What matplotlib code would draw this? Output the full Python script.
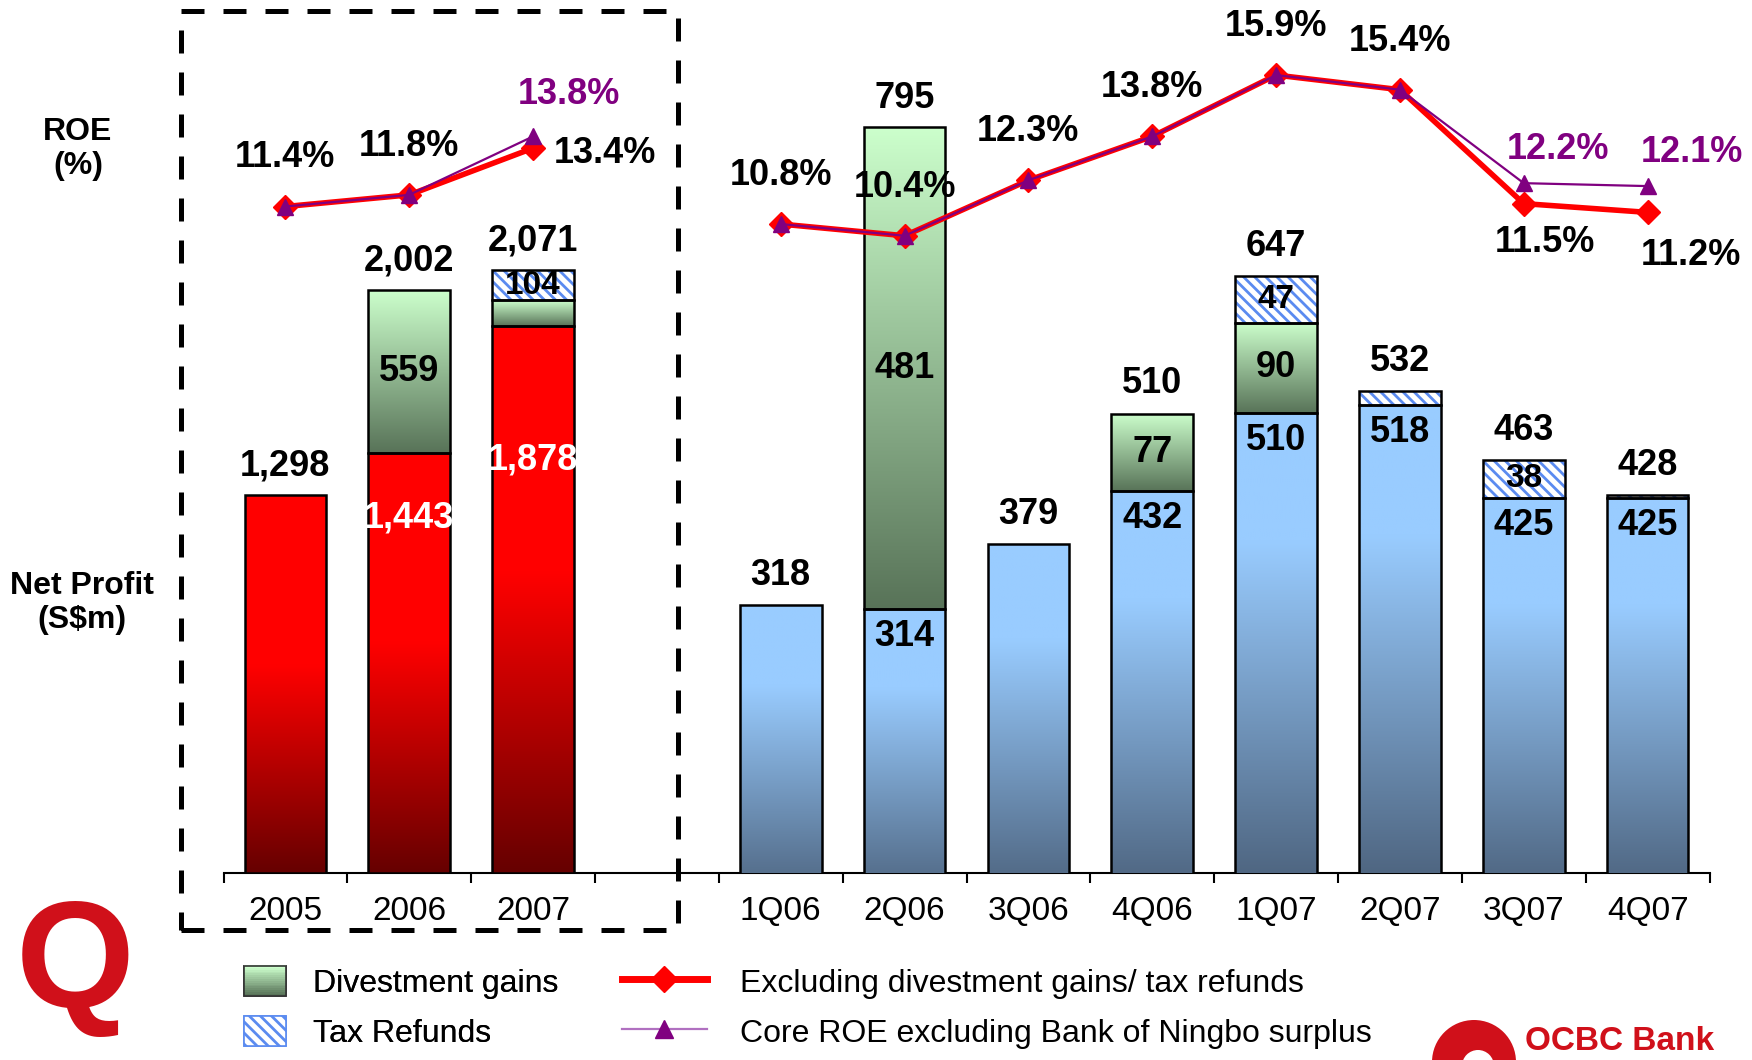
"""OCBC ROE and net profit chart: annual (2005-2007) and quarterly (1Q06-4Q07)."""

import matplotlib

matplotlib.use("Agg")
import matplotlib.pyplot as plt
import numpy as np
from matplotlib.colors import LinearSegmentedColormap, to_rgb
from matplotlib.legend_handler import HandlerBase
from matplotlib.lines import Line2D
from matplotlib.patches import Circle, Rectangle

plt.rcParams["font.family"] = ["Liberation Sans", "DejaVu Sans"]
plt.rcParams["hatch.linewidth"] = 2.0

# ---- data -----------------------------------------------------------------
years = ["2005", "2006", "2007"]
quarters = ["1Q06", "2Q06", "3Q06", "4Q06", "1Q07", "2Q07", "3Q07", "4Q07"]

annual_core = [1298, 1443, 1878]
annual_divest = [0, 559, 89]
annual_tax = [0, 0, 104]
annual_total = [1298, 2002, 2071]

quarter_core = [318, 314, 379, 432, 510, 518, 425, 425]
quarter_divest = [0, 481, 0, 77, 90, 0, 0, 0]
quarter_tax = [0, 0, 0, 0, 47, 14, 38, 3]
quarter_total = [318, 795, 379, 510, 647, 532, 463, 428]

roe_excl_annual = [11.4, 11.8, 13.4]
roe_core_annual = [11.4, 11.8, 13.8]
roe_excl_quarter = [10.8, 10.4, 12.3, 13.8, 15.9, 15.4, 11.5, 11.2]
roe_core_quarter = [10.8, 10.4, 12.3, 13.8, 15.9, 15.4, 12.2, 12.1]

# ---- style ----------------------------------------------------------------
RED_TOP, RED_BOT = "#ff0000", "#660000"
BLUE_TOP, BLUE_BOT = "#99ccff", "#44576f"
GREEN_TOP, GREEN_BOT = "#ccffcc", "#587358"
HATCH_BLUE = "#5b8bf0"
PURPLE = "#800080"
LOGO_RED = "#d0101a"
BAR_W = 0.66
FS = 26

x_annual = np.arange(len(years))
x_quarter = np.arange(len(quarters)) + len(years) + 1

# label offsets (points) for the ROE labels that do not sit straight above
excl_offsets = {2: (52, -4), 9: (15, -28), 10: (31, -31)}
core_offsets = {2: (26, 30), 9: (25, 24), 10: (32, 24)}
white_offsets = {1: 47, 2: 96}


def gradient_bar(ax, x, bottom, height, stops, zorder=3):
    bars = ax.bar(x, height, BAR_W, bottom=bottom, facecolor="none",
                  edgecolor="black", linewidth=1.8, zorder=zorder + 0.5)
    patch = bars.patches[0]
    cmap = LinearSegmentedColormap.from_list("g", stops)
    grad = np.linspace(0, 1, 256).reshape(-1, 1)
    im = ax.imshow(grad, extent=(x - BAR_W / 2, x + BAR_W / 2, bottom, bottom + height),
                   origin="lower", cmap=cmap, aspect="auto", zorder=zorder,
                   interpolation="bilinear")
    # clip to the bar outline but keep the axes clip box
    im.set_clip_path(patch.get_path(), patch.get_transform())


def hatch_bar(ax, x, bottom, height, zorder=3):
    ax.bar(x, height, BAR_W, bottom=bottom, facecolor="white", edgecolor=HATCH_BLUE,
           hatch="\\\\\\", linewidth=0, zorder=zorder)
    ax.bar(x, height, BAR_W, bottom=bottom, facecolor="none", edgecolor="black",
           linewidth=1.8, zorder=zorder + 0.5)


class GradientHandler(HandlerBase):
    def __init__(self, top, bot):
        super().__init__()
        self.top, self.bot = np.array(to_rgb(top)), np.array(to_rgb(bot))

    def create_artists(self, legend, orig_handle, xdescent, ydescent, width, height,
                       fontsize, trans):
        n = 16
        arts = []
        for i in range(n):
            f = i / (n - 1)
            col = self.bot * (1 - f) + self.top * f
            arts.append(Rectangle((-xdescent, -ydescent + i * height / n), width,
                                  height / n + 0.5, facecolor=col, edgecolor="none",
                                  transform=trans))
        arts.append(Rectangle((-xdescent, -ydescent), width, height, facecolor="none",
                              edgecolor="#333333", linewidth=1.2, transform=trans))
        return arts


fig = plt.figure(figsize=(17.52, 10.60), dpi=100)
rect = [223.5 / 1752, 187.4 / 1060, 1486 / 1752, 872.6 / 1060]
ax = fig.add_axes(rect)
ax_q = ax.twinx()
ax_r = ax.twinx()

red_stops = [(0.0, RED_BOT), (0.55, RED_TOP), (1.0, RED_TOP)]
green_stops = [GREEN_BOT, GREEN_TOP]
blue_stops = [(0.0, BLUE_BOT), (0.75, BLUE_TOP), (1.0, BLUE_TOP)]

ANN_YLIM = (0, 3000)
Q_YLIM = (51, 922)
ann_px = 872.6 / (ANN_YLIM[1] - ANN_YLIM[0])
q_px = 872.6 / (Q_YLIM[1] - Q_YLIM[0])


def draw_stack(axis, x, core, divest, tax, total, core_stops, scale, idx, annual):
    gradient_bar(axis, x, 0, core, core_stops)
    bottom = core
    if divest:
        gradient_bar(axis, x, bottom, divest, green_stops)
        if divest * scale >= 28:
            axis.text(x, bottom + divest / 2, f"{divest:,}", ha="center", va="center",
                      fontsize=FS, fontweight="bold", zorder=6)
        bottom += divest
    if tax:
        hatch_bar(axis, x, bottom, tax)
        if tax * scale >= 28:
            axis.text(x, bottom + tax / 2, f"{tax:,}", ha="center", va="center",
                      fontsize=FS - 2, fontweight="bold", zorder=6)
    axis.annotate(f"{total:,}", (x, total), xytext=(0, 21), textcoords="offset points",
                  ha="center", va="center", fontsize=FS, fontweight="bold", zorder=6)
    if divest or tax:
        if annual:
            axis.annotate(f"{core:,}", (x, core), xytext=(0, -white_offsets[idx]),
                          textcoords="offset points", ha="center", va="center",
                          fontsize=FS, fontweight="bold", color="white", zorder=6)
        else:
            axis.annotate(f"{core:,}", (x, core), xytext=(0, -20),
                          textcoords="offset points", ha="center", va="center",
                          fontsize=FS, fontweight="bold", zorder=6)


for i, x in enumerate(x_annual):
    draw_stack(ax, x, annual_core[i], annual_divest[i], annual_tax[i], annual_total[i],
               red_stops, ann_px, i, True)

for i, x in enumerate(x_quarter):
    draw_stack(ax_q, x, quarter_core[i], quarter_divest[i], quarter_tax[i],
               quarter_total[i], blue_stops, q_px, i, False)

# ---- ROE lines --------------------------------------------------------------
for xs, excl, core in [(x_annual, roe_excl_annual, roe_core_annual),
                       (x_quarter, roe_excl_quarter, roe_core_quarter)]:
    ax_r.plot(xs, excl, color="red", lw=4, marker="D", ms=12, zorder=4)
    ax_r.plot(xs, core, color=PURPLE, lw=1.6, marker="^", ms=11, zorder=5)

all_x = list(x_annual) + list(x_quarter)
all_excl = roe_excl_annual + roe_excl_quarter
all_core = roe_core_annual + roe_core_quarter
for k, (x, e, c) in enumerate(zip(all_x, all_excl, all_core)):
    ax_r.annotate(f"{e:.1f}%", (x, e), xytext=excl_offsets.get(k, (0, 35)),
                  textcoords="offset points", ha="center", va="center",
                  fontsize=FS, fontweight="bold", zorder=7)
    if c != e:
        ax_r.annotate(f"{c:.1f}%", (x, c), xytext=core_offsets[k],
                      textcoords="offset points", ha="center", va="center",
                      fontsize=FS, fontweight="bold", color=PURPLE, zorder=7)

# ---- axes cosmetics -----------------------------------------------------------
for a in (ax, ax_q, ax_r):
    a.set_xlim(-0.5, 11.5)
    for s in a.spines.values():
        s.set_visible(False)
    a.set_yticks([])
    a.patch.set_visible(False)
ax.set_ylim(*ANN_YLIM)
ax_q.set_ylim(*Q_YLIM)
ax_r.set_ylim(-11.4, 18.47)

ax.spines["bottom"].set_visible(True)
ax.spines["bottom"].set_linewidth(1.5)
ax.set_xticks(np.arange(12), years + [""] + quarters)
ax.tick_params(axis="x", which="major", length=0, pad=17, labelsize=24)
ax.set_xticks(np.arange(-0.5, 12, 1), minor=True)
ax.tick_params(axis="x", which="minor", length=7, width=1.5)

fig.add_artist(Rectangle((181 / 1752, 130 / 1060), 497 / 1752, 919 / 1060,
                         transform=fig.transFigure, fill=False, lw=3.6,
                         linestyle=(0, (4.6, 3.8)), edgecolor="black", zorder=10))

fig.text(78 / 1752, 1 - 149 / 1060, "ROE\n(%)", ha="center", va="center",
         fontsize=23, fontweight="bold", linespacing=1.2)
fig.text(82 / 1752, 1 - 603 / 1060, "Net Profit\n(S$m)", ha="center", va="center",
         fontsize=23, fontweight="bold", linespacing=1.2)

# ---- legends ------------------------------------------------------------------
div_handle = Rectangle((0, 0), 1, 1)
tax_handle = Rectangle((0, 0), 1, 1, facecolor="white", edgecolor=HATCH_BLUE,
                       hatch="\\\\\\", linewidth=1.2)
leg1 = fig.legend([div_handle, tax_handle], ["Divestment gains", "Tax Refunds"],
                  handler_map={div_handle: GradientHandler(GREEN_TOP, GREEN_BOT)},
                  loc="upper left", bbox_to_anchor=(244 / 1752, 1 - 966 / 1060),
                  frameon=False, fontsize=23, borderpad=0, borderaxespad=0,
                  handlelength=1.3, handleheight=1.05, handletextpad=0.85,
                  labelspacing=0.55)
excl_handle = Line2D([], [], color="red", lw=5, marker="D", ms=13)
core_handle = Line2D([], [], color="#b070c0", lw=1.6, marker="^", ms=13,
                     markerfacecolor=PURPLE, markeredgecolor=PURPLE)
fig.legend([excl_handle, core_handle],
           ["Excluding divestment gains/ tax refunds", "Core ROE excluding Bank of Ningbo surplus"],
           loc="upper left", bbox_to_anchor=(622 / 1752, 1 - 966 / 1060),
           frameon=False, fontsize=23, borderpad=0, borderaxespad=0,
           handlelength=2.65, handleheight=1.05, handletextpad=1.05, labelspacing=0.55)
fig.add_artist(leg1)

# ---- logos (bottom corners) ------------------------------------------------------
fig.text(75 / 1752, 1 - 968 / 1060, "Q", ha="center", va="center", fontsize=110,
         fontweight="bold", color=LOGO_RED)
fig.add_artist(Circle((14.74, -0.02), 0.42, transform=fig.dpi_scale_trans,
                      facecolor=LOGO_RED, edgecolor="none"))
fig.add_artist(Circle((14.78, -0.06), 0.16, transform=fig.dpi_scale_trans,
                      facecolor="white", edgecolor="none"))
fig.text(1525 / 1752, 3 / 1060, "OCBC Bank", ha="left", va="bottom",
         fontsize=24, fontweight="bold", color=LOGO_RED)

fig.savefig("out.png", dpi=100)
